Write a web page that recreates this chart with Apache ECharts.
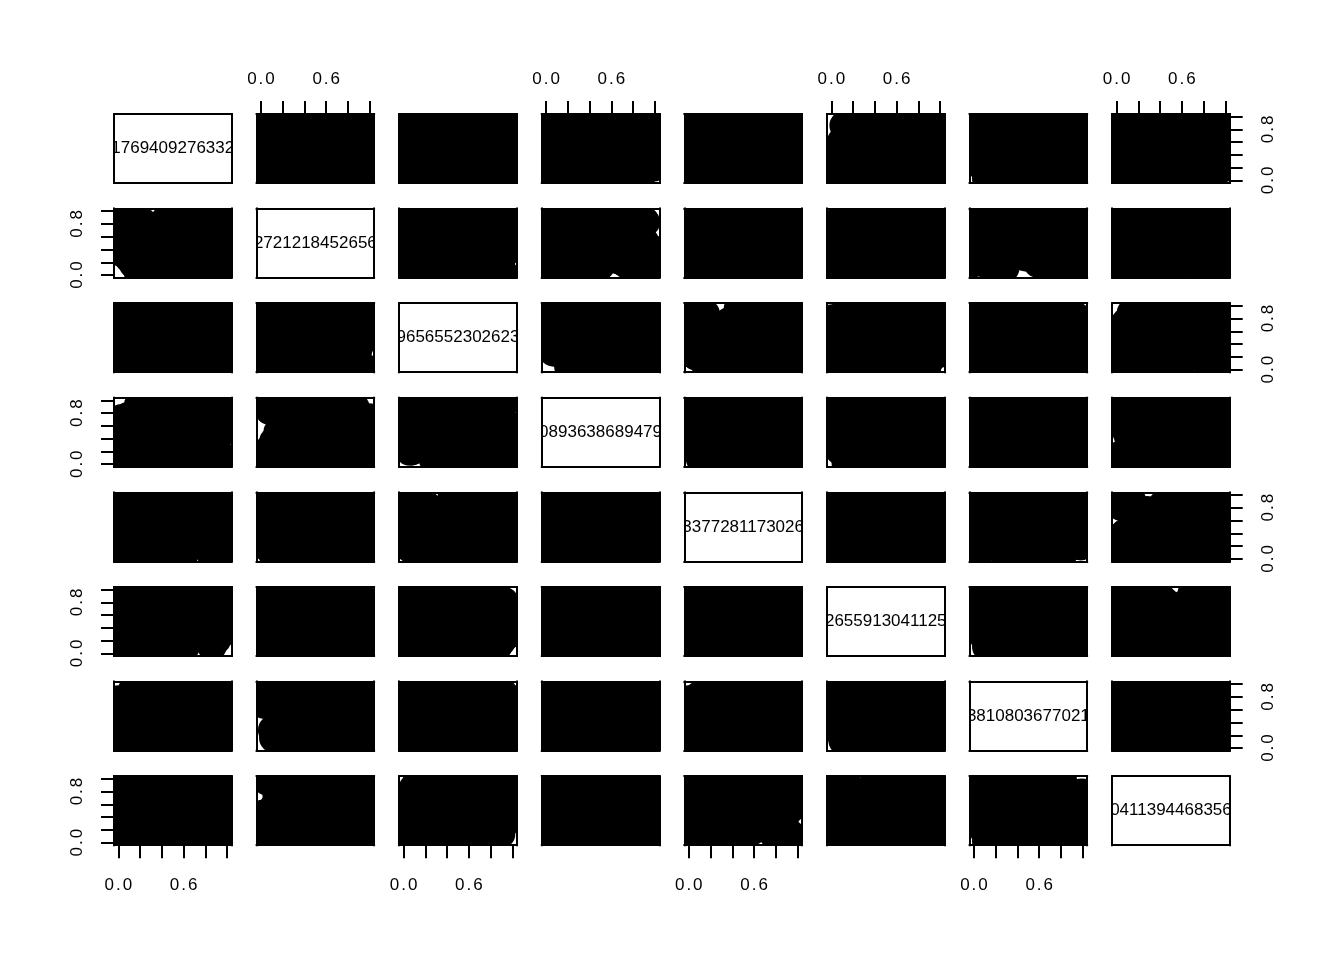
<!DOCTYPE html>
<html>
<head>
<meta charset="utf-8">
<script src="https://cdn.jsdelivr.net/npm/echarts@6/dist/echarts.min.js"></script>
<style>
  html, body { margin: 0; background: #fff; }
  #chart { width: 1344px; height: 960px; }
</style>
</head>
<body>
<div id="chart"></div>
<script>
// eight variables, values on [0, 1] (the panels are saturated, so these are estimates)
const v1 = [.52,.08,.91,.33,.67,.14,.79,.45,.02,.58,.96,.27,.71,.39,.85,.19,.63,.05,.48,.88,.23,.74,.36,.99,.11,.56,.82,.30,.65,.42,.07,.93,.17,.60,.77,.25,.50,.86,.13,.69,.38,.97,.04,.54,.81,.21,.44,.73,.29,.90,.10,.62,.35,.84,.47,.16,.76,.01,.57,.95,
            .34,.87,.61,.03,.72,.46,.18,.94,.55,.26,.80,.12,.68,.41,.98,.22,.59,.09,.83,.37,.66,.15,.51,.90,.31,.75,.06,.44,.97,.20,.63,.86,.28,.53,.00,.79,.40,.92,.24,.70];
const v2 = [.77,.31,.05,.64,.92,.18,.43,.86,.57,.12,.70,.26,.98,.39,.81,.03,.53,.66,.22,.89,.47,.09,.74,.35,.60,.15,.95,.41,.28,.83,.50,.01,.68,.20,.87,.44,.13,.59,.79,.33,.06,.72,.96,.24,.51,.84,.16,.62,.37,.90,.27,.75,.10,.56,.99,.45,.19,.67,.30,.85,
            .48,.11,.93,.36,.70,.02,.58,.82,.25,.65,.40,.97,.14,.53,.78,.31,.04,.88,.46,.61,.19,.73,.34,.91,.08,.55,.80,.23,.68,.42,.99,.17,.63,.29,.85,.52,.07,.76,.38,1.00];
const v3 = [.14,.88,.46,.71,.03,.59,.94,.25,.37,.82,.10,.65,.51,.20,.99,.42,.76,.07,.61,.33,.86,.17,.54,.90,.28,.68,.02,.79,.45,.12,.97,.38,.63,.22,.84,.49,.05,.73,.30,.92,.57,.16,.80,.41,.69,.09,.35,.95,.26,.52,.78,.01,.62,.44,.87,.19,.66,.31,.75,.55,
            .67,.23,.81,.04,.48,.92,.35,.60,.15,.74,.29,.98,.53,.08,.86,.41,.70,.19,.95,.32,.57,.11,.83,.45,.00,.64,.27,.89,.50,.13,.77,.39,.96,.21,.58,.84,.06,.71,.34,.91];
const v4 = [.63,.40,.97,.06,.28,.74,.15,.89,.52,.35,.81,.02,.69,.47,.23,.93,.11,.58,.78,.31,.44,.99,.18,.65,.07,.86,.37,.54,.25,.91,.60,.13,.76,.48,.03,.83,.29,.70,.42,.95,.20,.56,.09,.67,.34,.87,.50,.01,.79,.24,.61,.39,.94,.14,.72,.46,.85,.27,.57,.10,
            .19,.84,.45,.71,.05,.96,.32,.59,.88,.13,.66,.38,.80,.22,.53,.99,.08,.74,.41,.27,.92,.61,.16,.49,.85,.33,.70,.04,.57,.94,.26,.78,.12,.63,.43,.90,.21,.68,1.00,.36];
const v5 = [.29,.95,.58,.12,.83,.40,.67,.04,.76,.49,.21,.90,.35,.62,.09,.78,.53,.16,.99,.44,.71,.26,.87,.01,.60,.33,.81,.14,.69,.47,.92,.23,.55,.07,.74,.38,.96,.18,.63,.85,.30,.51,.11,.79,.42,.66,.03,.89,.57,.20,.73,.36,.98,.48,.15,.84,.27,.64,.06,.93,
            .61,.08,.45,.91,.24,.77,.13,.52,.99,.37,.68,.02,.85,.31,.56,.19,.94,.43,.72,.10,.80,.27,.65,.97,.34,.50,.05,.88,.22,.59,.75,.16,.46,.83,.00,.70,.39,.96,.28,.54];
const v6 = [.86,.17,.43,.69,.24,.98,.55,.32,.09,.77,.61,.14,.92,.38,.50,.03,.83,.66,.27,.72,.11,.58,.95,.36,.80,.20,.47,.01,.64,.89,.31,.74,.06,.53,.41,.97,.19,.68,.85,.25,.13,.59,.44,.91,.34,.78,.07,.62,.99,.22,.49,.87,.16,.70,.39,.04,.57,.82,.28,.94,
            .45,.92,.10,.63,.35,.81,.02,.56,.76,.21,.97,.42,.67,.08,.88,.30,.52,.15,.73,.99,.26,.60,.37,.84,.05,.48,.93,.18,.71,.40,.86,.12,.65,.33,.79,1.00,.23,.54,.09,.69];
const v7 = [.07,.62,.83,.37,.51,.93,.20,.74,.45,.16,.98,.58,.30,.87,.04,.69,.41,.25,.79,.55,.12,.90,.34,.66,.48,.99,.22,.61,.09,.76,.39,.85,.53,.01,.71,.27,.94,.43,.18,.64,.81,.33,.57,.10,.88,.46,.72,.24,.96,.36,.60,.14,.78,.50,.02,.67,.89,.31,.54,.19,
            .73,.28,.95,.12,.56,.84,.40,.03,.67,.91,.21,.49,.78,.35,.62,.08,.97,.44,.16,.82,.59,.26,.70,.00,.87,.38,.52,.13,.93,.65,.30,.80,.05,.47,.75,.18,.99,.57,.23,.85];
const v8 = [.41,.73,.19,.99,.56,.08,.87,.34,.63,.92,.27,.47,.05,.80,.68,.14,.96,.38,.59,.22,.85,.01,.70,.45,.31,.77,.12,.54,.94,.36,.66,.03,.82,.49,.24,.90,.58,.15,.75,.43,.97,.29,.65,.18,.52,.84,.10,.71,.35,.60,.89,.26,.06,.79,.48,.93,.21,.67,.40,.13,
            .88,.33,.57,.02,.76,.44,.17,.95,.62,.09,.81,.37,.53,.25,.99,.69,.11,.46,.83,.30,.74,.06,.58,.91,.20,.39,.86,.14,.64,.97,.28,.51,.78,.04,.42,.93,.16,.72,.00,.61];
const vars = [v1, v2, v3, v4, v5, v6, v7, v8];

const diagLabels = ["1769409276332", "2721218452656", "9656552302623", "0893638689479",
                    "3377281173026", "2655913041125", "3810803677021", "0411394468356"];

const tickValues = [0, 0.2, 0.4, 0.6, 0.8, 1.0];
const xLabelValues = [0, 0.6];
const yLabelValues = [0, 0.8];

const chart = echarts.init(document.getElementById('chart'));

const n = vars.length;
const cellLeft = 114, cellTop = 114;
const cellW = 117.5, cellH = 69;
const stepX = 142.6, stepY = 94.6;
const dotR = 15;
const font = "'Liberation Sans', Arial, Helvetica, sans-serif";
const black = { color: '#000', width: 2, cap: 'square' };

// R leaves a wider gap around the decimal point
const fmt = v => {
  const [a, b] = v.toFixed(1).split('.');
  return `{d|${a}}{p|.}{d|${b}}`;
};
const rich = {
  d: { fontSize: 17, fontFamily: font, color: '#000' },
  p: { fontSize: 17, fontFamily: font, color: '#000', padding: [0, 2, 0, 2] }
};

function axis(gridIndex, position, labels, margin, rotate) {
  const on = !!labels;
  return {
    type: 'value', gridIndex, position, min: -0.04, max: 1.04, z: 10,
    axisLine: { show: true, onZero: false, lineStyle: black },
    axisTick: { show: on, length: 12, customValues: tickValues, lineStyle: black },
    axisLabel: on ? {
      show: true, customValues: labels, formatter: fmt, rich,
      fontSize: 17, fontFamily: font, color: '#000', margin, rotate: rotate || 0
    } : { show: false },
    splitLine: { show: false }
  };
}

const grids = [], xAxes = [], yAxes = [], series = [];

for (let i = 0; i < n; i++) {
  for (let j = 0; j < n; j++) {
    const k = i * n + j;
    grids.push({
      left: cellLeft + j * stepX, top: cellTop + i * stepY,
      width: cellW, height: cellH, show: false, outerBoundsMode: 'none'
    });
    xAxes.push(axis(k, 'bottom', (i === n - 1 && j % 2 === 0) ? xLabelValues : null, 32));
    xAxes.push(axis(k, 'top', (i === 0 && j % 2 === 1) ? xLabelValues : null, 26));
    yAxes.push(axis(k, 'left', (j === 0 && i % 2 === 1) ? yLabelValues : null, 28, 90));
    yAxes.push(axis(k, 'right', (j === n - 1 && i % 2 === 0) ? yLabelValues : null, 30, 90));

    if (i === j) {
      const label = diagLabels[i];
      series.push({
        type: 'custom', xAxisIndex: 2 * k, yAxisIndex: 2 * k, clip: true, silent: true,
        data: [[0.5, 0.5]],
        renderItem: (params, api) => {
          const p = api.coord([api.value(0), api.value(1)]);
          return {
            type: 'text', x: p[0], y: p[1],
            style: { text: label, fontSize: 17, fontFamily: font, fill: '#000', align: 'center', verticalAlign: 'middle' }
          };
        }
      });
    } else {
      series.push({
        type: 'custom', xAxisIndex: 2 * k, yAxisIndex: 2 * k, clip: true, silent: true,
        data: vars[j].map((x, m) => [x, vars[i][m]]),
        renderItem: (params, api) => {
          const p = api.coord([api.value(0), api.value(1)]);
          return { type: 'circle', shape: { cx: p[0], cy: p[1], r: dotR }, style: { fill: '#000' } };
        }
      });
    }
  }
}

chart.setOption({
  animation: false,
  backgroundColor: '#fff',
  grid: grids,
  xAxis: xAxes,
  yAxis: yAxes,
  series
});
</script>
</body>
</html>
